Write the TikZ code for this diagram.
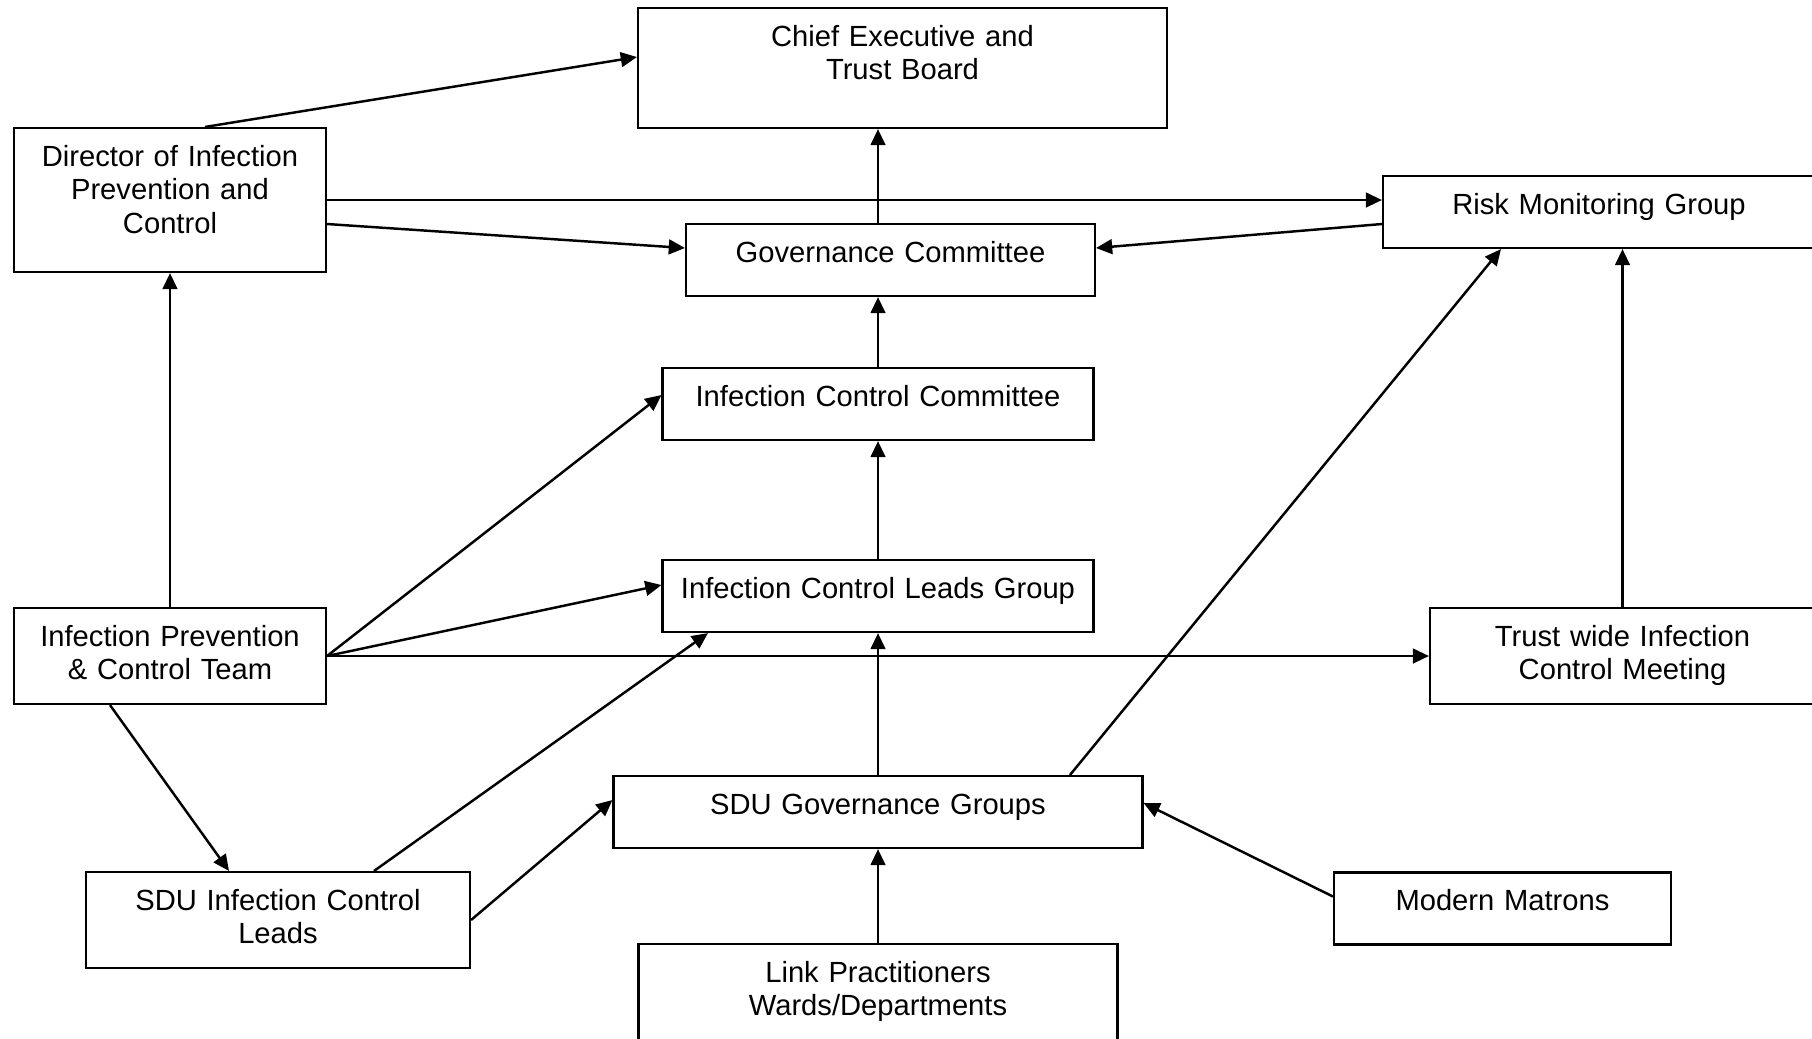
\documentclass[tikz,border=0pt]{standalone}
\usepackage{fontspec}
\setmainfont{Liberation Sans}
\usetikzlibrary{arrows.meta}

\begin{document}
\begin{tikzpicture}[line width=0.7pt, every node/.style={font=\fontsize{8.3pt}{9.55pt}\selectfont}, >={Triangle[length=4.6pt, width=4.2pt]}, box/.style={draw, line width=0.6pt, align=center, inner sep=0pt, text height=0.38cm, text depth=#1}, box/.default=0.34cm]
	\useasboundingbox (0,0) rectangle (18.12,-10.38);
	\clip (0,0) rectangle (18.12,-10.38);
	\node[box=0.82cm, text width=5.29cm] (chief) at (9.025,-0.68) {Chief Executive and\\Trust Board};
	\node[box=1.06cm, text width=3.12cm] (dir) at (1.70,-2.00) {Director of Infection\\Prevention and\\Control};
	\node[box, text width=4.32cm] (risk) at (15.99,-2.12) {Risk Monitoring Group};
	\node[box, text width=4.09cm] (gov) at (8.905,-2.60) {Governance Committee};
	\node[box, text width=4.31cm] (icc) at (8.78,-4.04) {Infection Control Committee};
	\node[box, text width=4.31cm] (iclg) at (8.78,-5.96) {Infection Control Leads Group};
	\node[box=0.58cm, text width=3.12cm] (ipct) at (1.70,-6.56) {Infection Prevention\\\& Control Team};
	\node[box=0.58cm, text width=3.85cm] (trust) at (16.225,-6.56) {Trust wide Infection\\Control Meeting};
	\node[box, text width=5.29cm] (sdgov) at (8.78,-8.12) {SDU Governance Groups};
	\node[box=0.58cm, text width=3.84cm] (sdicl) at (2.78,-9.20) {SDU Infection Control\\Leads};
	\node[box, text width=3.37cm] (matr) at (15.025,-9.085) {Modern Matrons};
	\node[box=0.80cm, text width=4.79cm] (link) at (8.78,-10.03) {Link Practitioners\\Wards/Departments};
	\foreach \a/\b in {iclg.north/icc.south, sdgov.north/iclg.south, link.north/sdgov.south, ipct.north/dir.south, ipct.east/trust.west} {\draw[->] (\a) -- (\b);}
	\draw[->] ([xshift=0.35cm]dir.north) -- ([yshift=0.11cm]chief.west);
	\draw[->] (dir.east) -- (dir.east -| risk.west);
	\draw[->] ([yshift=-0.24cm]dir.east) -- ([yshift=0.12cm]gov.west);
	\draw[->] (gov.north -| icc.north) -- (chief.south -| icc.north);
	\draw[->] ([yshift=-0.12cm]risk.west) -- ([yshift=0.12cm]gov.east);
	\draw[->] (icc.north) -- (icc.north |- gov.south);
	\draw[->] (ipct.east) -- ([yshift=0.09cm]icc.west);
	\draw[->] (ipct.east) -- ([yshift=0.11cm]iclg.west);
	\draw[->] ([xshift=-0.60cm]ipct.south) -- ([xshift=-0.49cm]sdicl.north);
	\draw[->] ([xshift=0.96cm]sdicl.north) -- ([xshift=-1.70cm]iclg.south);
	\draw[->] (sdicl.east) -- ([yshift=0.12cm]sdgov.west);
	\draw[->] ([xshift=1.92cm]sdgov.north) -- ([xshift=-0.98cm]risk.south);
	\draw[->] ([yshift=0.12cm]matr.west) -- ([yshift=0.09cm]sdgov.east);
	\draw[->] (trust.north) -- (trust.north |- risk.south);
\end{tikzpicture}
\end{document}
